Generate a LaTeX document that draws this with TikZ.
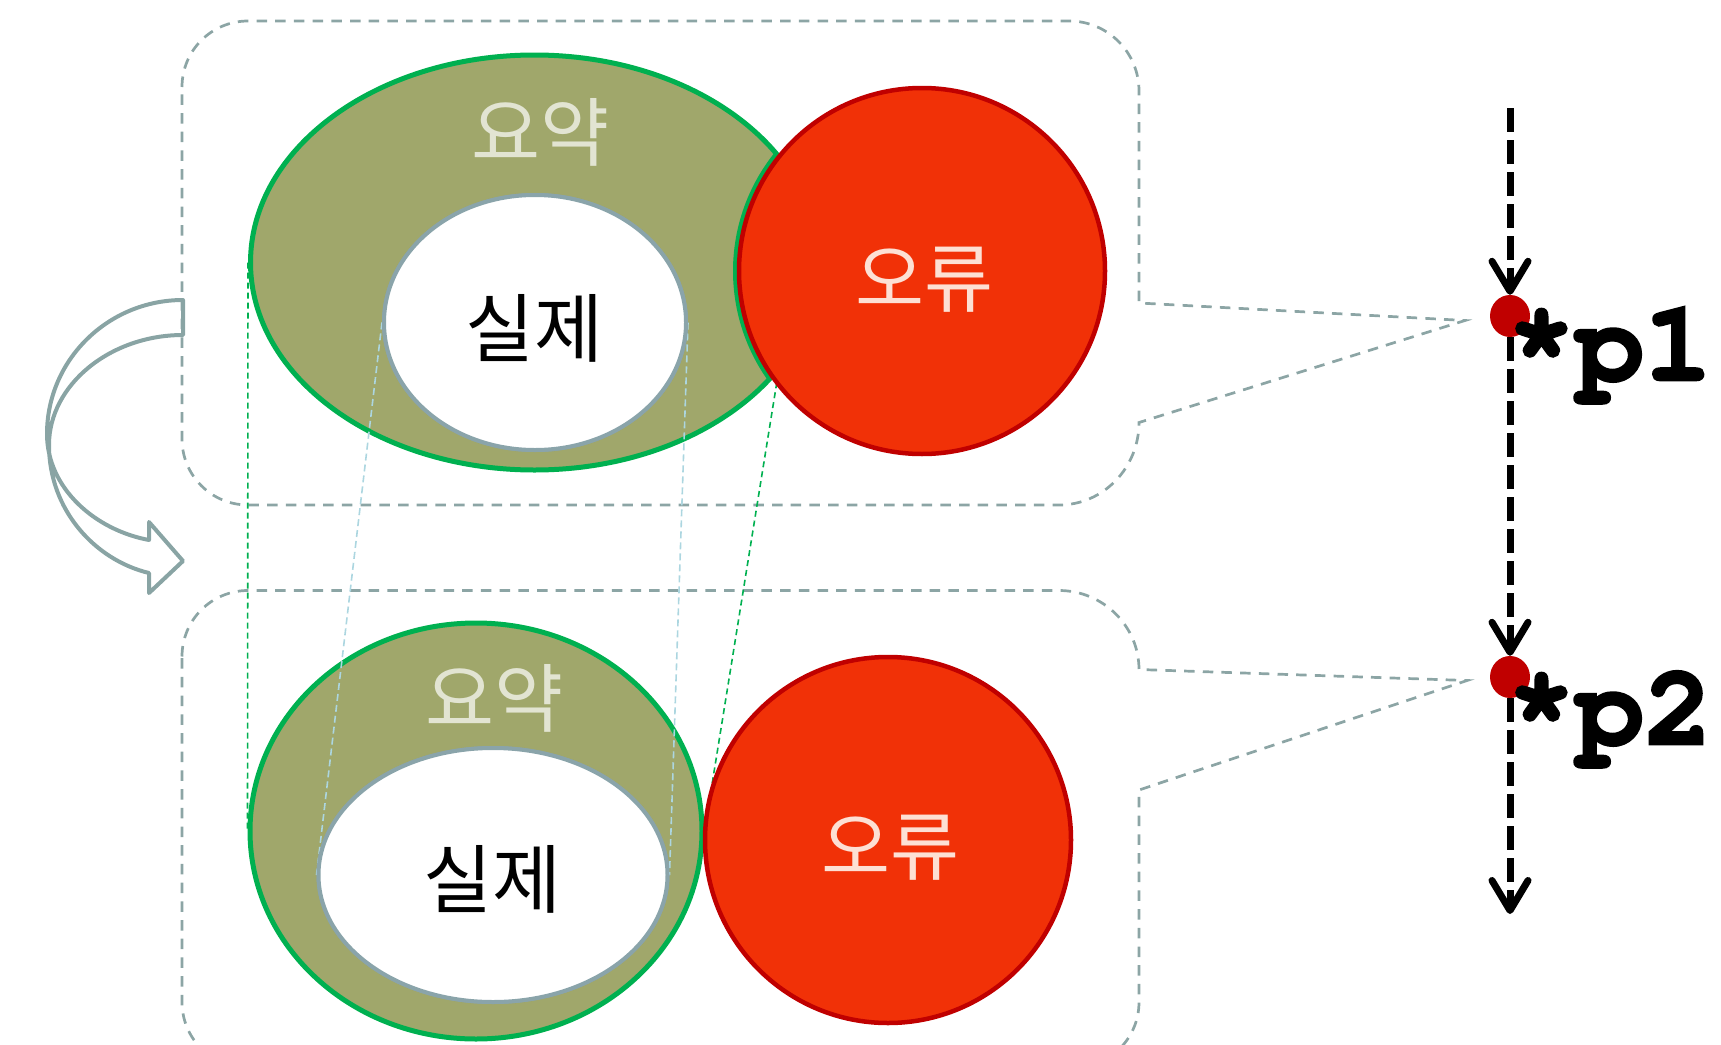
\documentclass[tikz,border=0pt]{standalone}
\usepackage{fontspec}
\newfontfamily\kr{Noto Sans CJK KR}
\newfontfamily\monob{TeX Gyre Cursor}[BoldFeatures={FakeBold=2.5}]
\usetikzlibrary{shapes.geometric,arrows.meta}
\definecolor{olivefill}{RGB}{160,167,107}
\definecolor{greenb}{RGB}{0,176,80}
\definecolor{innerb}{RGB}{138,164,170}
\definecolor{redf}{RGB}{241,49,7}
\definecolor{redb}{RGB}{192,0,0}
\definecolor{calloutc}{RGB}{140,165,165}
\definecolor{curvc}{RGB}{137,164,164}
\definecolor{sumtxt}{RGB}{226,228,210}
\definecolor{errtxt}{RGB}{253,224,212}
\definecolor{lightb}{RGB}{172,214,224}
\begin{document}
\begin{tikzpicture}[x=1pt,y=-1pt,
  callout/.style={draw=calloutc, line width=2.7pt, dash pattern=on 10.5pt off 8.2pt},
  summ/.style={ellipse, draw=greenb, line width=5pt, fill=olivefill, inner sep=0pt},
  real/.style={ellipse, draw=innerb, line width=4pt, fill=white, inner sep=0pt},
  err/.style={circle, draw=redb, line width=4.5pt, fill=redf, inner sep=0pt, minimum size=366pt},
  dotn/.style={ellipse, fill=redb, inner sep=0pt, minimum width=40pt, minimum height=42pt},
  flow/.style={line width=7pt, dash pattern=on 23.5pt off 8.5pt, -{Straight Barb[length=30pt,width=36pt,round]}},
  greenlink/.style={draw=greenb, line width=1.6pt, dash pattern=on 6pt off 4pt},
  bluelink/.style={draw=lightb, line width=1.6pt, dash pattern=on 7pt off 4pt},
  krtxt/.style={font=\kr\fontsize{75}{75}\selectfont, inner sep=0pt, anchor=base},
  lab/.style={font=\monob\bfseries\fontsize{114}{114}\selectfont, inner sep=0pt, anchor=base west},
  curv/.style={draw=curvc, line width=4pt, line join=round}
]
\useasboundingbox (0,0) rectangle (1721,1044);
\clip (0,0) rectangle (1721,1044);

% callouts
\draw[callout] (182,87) .. controls (182,50.5) and (211.5,21) .. (248,21) -- (1069,21)
  .. controls (1107.7,21) and (1139,52.3) .. (1139,91) -- (1139,303) -- (1465,320.5) -- (1139,422.5)
  .. controls (1139,468) and (1103,505) .. (1059,505) -- (248,505)
  .. controls (211.5,505) and (182,475.5) .. (182,439) -- cycle;
\draw[callout] (182,656.5) .. controls (182,620) and (211.5,590.5) .. (248,590.5) -- (1059,590.5)
  .. controls (1103,590.5) and (1139,626) .. (1139,669.5) -- (1467,680.5) -- (1139,790) -- (1139,1002)
  .. controls (1139,1038.5) and (1109.5,1068) .. (1073,1068) -- (248,1068)
  .. controls (211.5,1068) and (182,1038.5) .. (182,1002) -- cycle;

% nodes (shapes)
\node[summ, minimum width=568pt, minimum height=415pt] (tS) at (534.5,262.5) {};
\node[summ, minimum width=452pt, minimum height=416pt] (bS) at (476,831) {};
\coordinate (tErrC) at (922,271);
\coordinate (bite) at (776.8,382.4);

% links
\draw[greenlink] (tS.west) -- (bS.west);
\draw[greenlink] (bite) -- (bS.east);

% green bite
\begin{scope}
\clip (534.5,262.5) ellipse [x radius=284pt, y radius=207.5pt];
\draw[greenb, line width=5pt] (tErrC) circle [radius=186.5pt];
\end{scope}

\node[real, minimum width=302pt, minimum height=255pt] (tR) at (535,322.5) {};
\node[real, minimum width=349pt, minimum height=254pt] (bR) at (493,875) {};
\draw[bluelink] (tR.west) -- (bR.west);
\draw[bluelink] (tR.east) -- (bR.east);
\node[real, minimum width=302pt, minimum height=255pt] at (tR.center) {};
\node[real, minimum width=349pt, minimum height=254pt] at (bR.center) {};

\node[err] (tE) at (tErrC) {};
\node[err] (bE) at (888,840) {};

% texts
\node[krtxt, text=sumtxt] (tSt) at (540,160) {요약};
\node[krtxt, text=black] (tRt) at (534,356) {실제};
\node[krtxt, text=errtxt] (tEt) at (924,306) {오류};
\node[krtxt, text=sumtxt] (bSt) at (494.5,726) {요약};
\node[krtxt, text=black] (bRt) at (492,907) {실제};
\node[krtxt, text=errtxt] (bEt) at (890,874) {오류};

% flow arrow
\coordinate (fs) at (1510,108);
\coordinate (fe) at (1510,914);
\node[dotn] (d1) at (1510,316) {};
\node[dotn] (d2) at (1510,677) {};
\draw[flow] (fs) -- (d1.north);
\draw[flow] (d1.south) -- (d2.north);
\draw[flow] (d2.south) -- (fe);
\node[lab] (l1) at (1507,380) {*p1};
\node[lab] (l2) at (1507,744) {*p2};

% curved arrow
\draw[curv] (183,300) .. controls (108,300) and (47,360) .. (47,434)
  .. controls (47,488) and (95,530) .. (149,540) -- (149,522) -- (183,561) -- (149,593) -- (149,573)
  .. controls (95,560) and (49,510) .. (49,445)
  .. controls (49,385) and (110,335) .. (183,335) -- cycle;
\end{tikzpicture}
\end{document}
